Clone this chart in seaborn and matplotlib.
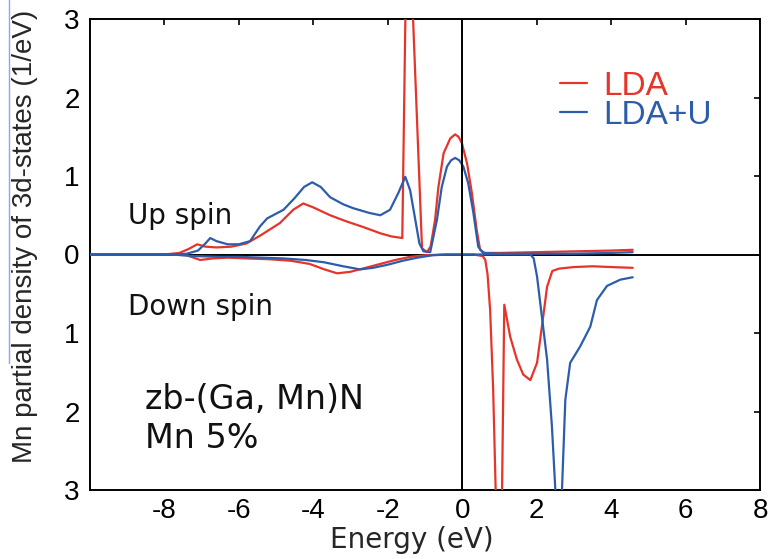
import matplotlib
matplotlib.use("Agg")
import matplotlib.pyplot as plt
import seaborn as sns
from matplotlib.lines import Line2D

# Mn 3d partial density of states for zb-(Ga,Mn)N, Mn 5 %
# Up-spin channel (plotted upward), LDA
energy_up_lda = [-10.0, -8.0, -7.6, -7.35, -7.12, -6.9, -6.6, -6.2, -5.8, -5.43,
                 -4.9, -4.54, -4.27, -4.0, -3.55, -3.1, -2.66, -2.2, -1.9, -1.61,
                 -1.51, -1.37, -1.08, -0.95, -0.85, -0.73, -0.64, -0.5, -0.32, -0.19,
                 -0.1, -0.01, 0.13, 0.26, 0.39, 0.48, 0.6, 1.0, 2.0, 3.0, 4.0, 4.58]
dos_up_lda = [0.0, 0.0, 0.02, 0.07, 0.13, 0.1, 0.09, 0.1, 0.14, 0.24,
              0.4, 0.57, 0.65, 0.6, 0.5, 0.42, 0.35, 0.27, 0.23, 0.21,
              3.6, 3.6, 0.08, 0.03, 0.1, 0.44, 0.86, 1.29, 1.48, 1.53,
              1.5, 1.42, 1.16, 0.78, 0.31, 0.06, 0.02, 0.02, 0.03, 0.04, 0.05, 0.06]

# Up-spin channel, LDA+U
energy_up_u = [-10.0, -7.8, -7.4, -7.1, -6.9, -6.77, -6.6, -6.3, -6.0, -5.7,
               -5.43, -5.24, -4.8, -4.5, -4.25, -4.03, -3.8, -3.55, -3.2, -2.93,
               -2.5, -2.2, -1.94, -1.72, -1.53, -1.4, -1.26, -1.15, -1.04, -0.86,
               -0.68, -0.55, -0.41, -0.3, -0.19, -0.08, 0.03, 0.16, 0.3, 0.43,
               0.56, 1.0, 2.0, 3.0, 4.0, 4.58]
dos_up_u = [0.0, 0.0, 0.01, 0.05, 0.14, 0.21, 0.17, 0.13, 0.13, 0.17,
            0.36, 0.46, 0.57, 0.72, 0.86, 0.92, 0.86, 0.73, 0.64, 0.59,
            0.53, 0.5, 0.57, 0.78, 0.99, 0.82, 0.44, 0.14, 0.04, 0.03,
            0.44, 0.86, 1.12, 1.2, 1.23, 1.2, 1.12, 0.91, 0.53, 0.1,
            0.02, 0.01, 0.01, 0.01, 0.02, 0.03]

# Down-spin channel (plotted downward), LDA
energy_dn_lda = [-10.0, -7.8, -7.4, -7.04, -6.7, -6.3, -5.8, -5.2, -4.6, -4.1,
                 -3.7, -3.36, -3.0, -2.6, -2.2, -1.8, -1.4, -1.0, -0.5, 0.3,
                 0.55, 0.62, 0.68, 0.75, 0.83, 0.93, 1.055, 1.13, 1.29, 1.47,
                 1.64, 1.83, 2.01, 2.14, 2.28, 2.42, 2.6, 3.0, 3.5, 4.0, 4.58]
dos_dn_lda = [0.0, 0.0, -0.01, -0.07, -0.05, -0.04, -0.05, -0.06, -0.08, -0.12,
              -0.19, -0.24, -0.22, -0.17, -0.12, -0.07, -0.03, -0.01, 0.0, 0.0,
              -0.02, -0.07, -0.25, -0.71, -1.7, -3.6, -3.6, -0.64, -1.05, -1.34,
              -1.53, -1.6, -1.38, -0.92, -0.41, -0.21, -0.18, -0.16, -0.15, -0.16, -0.17]

# Down-spin channel, LDA+U
energy_dn_u = [-10.0, -7.8, -7.2, -6.5, -6.0, -5.4, -4.8, -4.2, -3.7, -3.2,
               -2.74, -2.4, -2.0, -1.6, -1.2, -0.8, -0.4, 0.0, 1.0, 1.83,
               1.92, 2.01, 2.14, 2.28, 2.41, 2.57, 2.63, 2.68, 2.77, 2.9,
               3.17, 3.44, 3.62, 3.89, 4.25, 4.58]
dos_dn_u = [0.0, 0.0, -0.02, -0.03, -0.03, -0.04, -0.05, -0.07, -0.1, -0.15,
            -0.19, -0.17, -0.13, -0.08, -0.04, -0.01, 0.0, 0.0, 0.0, 0.0,
            -0.05, -0.28, -0.79, -1.34, -2.19, -3.6, -3.6, -3.0, -1.85, -1.38,
            -1.17, -0.92, -0.58, -0.4, -0.32, -0.29]

x_ticks = [-8, -6, -4, -2, 0, 2, 4, 6, 8]
y_ticks = [-3, -2, -1, 0, 1, 2, 3]
y_tick_labels = ["3", "2", "1", "0", "1", "2", "3"]
series_labels = ["LDA", "LDA+U"]

RED = "#e5352b"
BLUE = "#2c5dab"
LW = 1.6

sns.set_theme(style="white")
plt.rcParams["font.family"] = ["Liberation Sans", "DejaVu Sans"]
plt.rcParams["axes.unicode_minus"] = False

fig = plt.figure(figsize=(7.71, 5.59), dpi=100)
ax = fig.add_axes([90 / 771, 1 - 490 / 559, 670 / 771, 471 / 559])

# zero reference lines
ax.axhline(0, color="black", lw=1.4, zorder=1)
ax.axvline(0, color="black", lw=1.4, zorder=4)

curves = [
    (energy_up_lda, dos_up_lda, RED),
    (energy_dn_lda, dos_dn_lda, RED),
    (energy_up_u, dos_up_u, BLUE),
    (energy_dn_u, dos_dn_u, BLUE),
]
for e, d, c in curves:
    sns.lineplot(x=e, y=d, color=c, lw=LW, ax=ax, estimator=None,
                 sort=False, zorder=3)

ax.set_xlim(-10, 8)
ax.set_ylim(-3, 3)
ax.set_xticks(x_ticks)
ax.set_xticklabels([str(t) for t in x_ticks])
ax.set_yticks(y_ticks)
ax.set_yticklabels(y_tick_labels)

for side in ["left", "right", "top", "bottom"]:
    ax.spines[side].set_visible(True)
    ax.spines[side].set_color("black")
    ax.spines[side].set_linewidth(1.4)

ax.tick_params(axis="both", direction="in", length=4, width=1.2,
               top=True, right=True, labelsize=20, colors="black")
ax.tick_params(axis="x", pad=6)
ax.tick_params(axis="y", pad=7.5)

ax.set_xlabel("Energy (eV)", fontsize=20, family=["DejaVu Sans"])
ax.xaxis.label.set_va("baseline")
ax.xaxis.set_label_coords((412 - 90) / 670, (490 - 548) / 471)

ax.set_ylabel("Mn partial density of 3d-states (1/eV)", fontsize=20)
ax.yaxis.label.set_va("baseline")
ax.yaxis.set_label_coords((32 - 90) / 670, (490 - 236) / 471)

# annotations
ax.text(-8.98, 0.39, "Up spin", fontsize=20, family=["DejaVu Sans"],
        va="baseline", ha="left", color="#111111")
ax.text(-8.98, -0.77, "Down spin", fontsize=20, family=["DejaVu Sans"],
        va="baseline", ha="left", color="#111111")
ax.text(-8.52, -1.97, "zb-(Ga, Mn)N", fontsize=24, family=["DejaVu Sans"],
        va="baseline", ha="left", color="#111111")
ax.text(-8.52, -2.47, "Mn 5%", fontsize=24, family=["DejaVu Sans"],
        va="baseline", ha="left", color="#111111")

handles = [Line2D([], [], color=RED, lw=LW, label=series_labels[0]),
           Line2D([], [], color=BLUE, lw=LW, label=series_labels[1])]
ax.legend(handles=handles, loc="upper left", bbox_to_anchor=(0.7015, 0.89),
          frameon=False, fontsize=24, handlelength=0.82, handletextpad=0.48,
          labelspacing=-0.06, borderpad=0, borderaxespad=0,
          labelcolor="linecolor")

# thin guide line at the left page edge
fig.add_artist(Line2D([9 / 771, 9 / 771], [1.0, 1 - 363 / 559],
                      transform=fig.transFigure, color="#8aa6ee", lw=1.0))

fig.savefig("out.png", dpi=100)
